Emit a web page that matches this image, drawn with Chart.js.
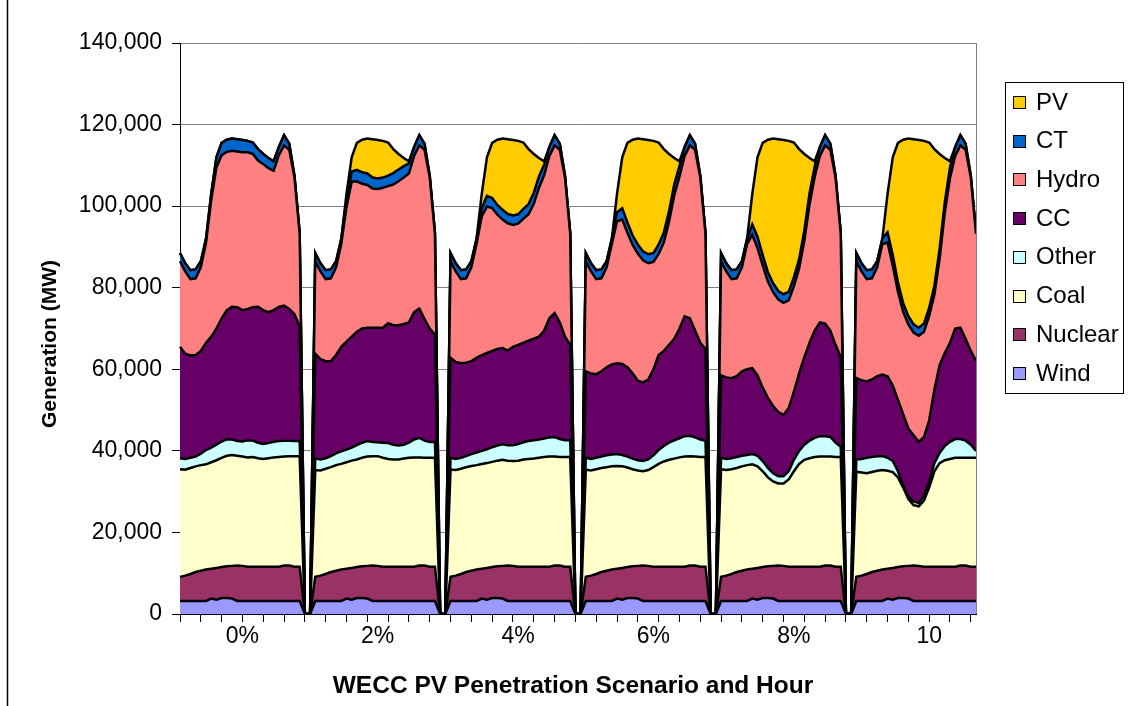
<!DOCTYPE html>
<html>
<head>
<meta charset="utf-8">
<title>WECC PV Penetration</title>
<script src="https://cdn.jsdelivr.net/npm/chart.js@4.4.1/dist/chart.umd.min.js"></script>
<style>
  body { margin: 0; background: #fff; }
  #wrap { width: 1134px; height: 706px; position: relative; }
</style>
</head>
<body>
<div id="wrap"><canvas id="genChart"></canvas></div>
<script>
// scenario names printed under each block (last one is cut off in the original)
const scenarios = ['0%', '2%', '4%', '6%', '8%', '10'];
const hoursPerDay = 24;
const gapPoints = 2; // zero points between two scenario blocks

// MW by hour; wind and nuclear are the same in every scenario
const wind = [3200, 3200, 3200, 3200, 3200, 3200, 3800, 3500, 3900, 3900, 3800, 3200, 3200, 3200, 3200, 3200, 3200, 3200, 3200, 3200, 3200, 3200, 3200, 3200];
const nuclear = [5900, 6200, 6600, 7100, 7400, 7700, 7300, 7800, 7600, 7800, 8000, 8700, 8600, 8400, 8400, 8400, 8400, 8400, 8400, 8400, 8700, 8700, 8400, 8400];

// one row per scenario (0%, 2%, 4%, 6%, 8%, 10%)
const coal = [
  [26400, 26000, 26000, 25900, 25900, 25800, 26100, 26400, 26800, 27100, 27200, 26900, 26800, 26800, 26900, 26600, 26400, 26600, 26800, 26900, 26700, 26800, 27100, 27100],
  [26200, 25800, 25800, 25700, 25900, 25900, 26100, 26300, 26400, 26600, 26800, 26800, 26900, 26700, 26400, 26300, 26300, 26500, 26700, 26800, 26500, 26400, 26700, 26700],
  [26300, 25900, 25800, 25700, 25700, 25600, 25700, 25700, 25800, 25900, 26000, 25700, 25700, 26000, 26300, 26400, 26500, 26700, 26900, 27000, 26700, 26600, 26900, 26900],
  [26300, 25800, 25700, 25500, 25400, 25300, 25200, 24900, 24400, 23800, 23400, 23100, 23500, 24400, 25200, 25800, 26200, 26500, 26800, 27000, 26800, 26700, 26900, 26900],
  [26400, 25900, 25700, 25500, 25600, 25600, 25600, 24900, 23500, 21800, 20700, 20100, 20200, 21400, 23400, 25200, 26200, 26600, 26900, 27000, 26700, 26700, 26900, 26900],
  [25800, 25300, 24700, 24500, 24500, 24400, 24000, 23500, 22000, 19300, 16400, 14800, 14600, 16200, 19400, 23400, 25400, 26100, 26400, 26700, 26400, 26400, 26700, 26700]
];
const other = [
  [2700, 2600, 2500, 2400, 2800, 3500, 3600, 3800, 4000, 4000, 3800, 3600, 3700, 4200, 4000, 3800, 3700, 3700, 3800, 3900, 3900, 3800, 3700, 3700],
  [2900, 2700, 2600, 2700, 2900, 3100, 3100, 3200, 3500, 3700, 3800, 3500, 3400, 3700, 3900, 3600, 3400, 3400, 3700, 4400, 4800, 4200, 3900, 3900],
  [2900, 2700, 2700, 2700, 2900, 3100, 3200, 3400, 3600, 3700, 3800, 3800, 3900, 4100, 4200, 4400, 4500, 4500, 4500, 4700, 4800, 4400, 4100, 4100],
  [2900, 2800, 2800, 2800, 2900, 2900, 2900, 2800, 2700, 2600, 2500, 2500, 2600, 2900, 3400, 3800, 4200, 4500, 4700, 5000, 5000, 4700, 4300, 4000],
  [2800, 2700, 2700, 2700, 2600, 2500, 2500, 2600, 2500, 2300, 2000, 1800, 1800, 2000, 2800, 3200, 3700, 4300, 4700, 5000, 5000, 4800, 3500, 2500],
  [3000, 3300, 3800, 3700, 3600, 3400, 3200, 2700, 1500, 500, 600, 900, 800, 1100, 1500, 2000, 2500, 3500, 4200, 4600, 4600, 4200, 3200, 1700]
];
const cc = [
  [27300, 25800, 25100, 24900, 25200, 26300, 27200, 28500, 30200, 31700, 32500, 32800, 32200, 32200, 32700, 33300, 32800, 32100, 32300, 32900, 33100, 32300, 31100, 28100],
  [25600, 24600, 23800, 23300, 24100, 25600, 26500, 27200, 27800, 28000, 27800, 28000, 28100, 28200, 29400, 29300, 29500, 29600, 29500, 31200, 31700, 29800, 27800, 26300],
  [24500, 23800, 23200, 22900, 22800, 23200, 23500, 23600, 23600, 23700, 23600, 23200, 24100, 24300, 24400, 24600, 24900, 25200, 26500, 29200, 30400, 28600, 25400, 23400],
  [21200, 21000, 20500, 20900, 21600, 22100, 22300, 22300, 21900, 20900, 19500, 19300, 19600, 21100, 23300, 23300, 24000, 24900, 26900, 29400, 28800, 26200, 23700, 22500],
  [20200, 20000, 19600, 19800, 20700, 21000, 21100, 19700, 18000, 17200, 16500, 15700, 15000, 15500, 16700, 19000, 21500, 24000, 26300, 27900, 27600, 26100, 24000, 22000],
  [20000, 19300, 18700, 19000, 19600, 20000, 20000, 18500, 17500, 17500, 16700, 16200, 15000, 14500, 15000, 18000, 21500, 22800, 24300, 27100, 27300, 25000, 23000, 22100]
];
const hydro = [
  [21000, 20200, 18700, 18800, 20500, 24500, 33500, 39500, 40000, 38800, 38300, 38200, 38700, 38400, 37600, 35900, 35800, 35300, 34200, 37200, 39300, 39000, 33500, 22700],
  [22700, 21500, 20100, 20300, 21500, 25300, 32900, 38000, 36900, 35500, 35000, 34100, 34000, 34300, 33600, 34500, 35300, 35900, 36500, 38300, 40000, 41500, 37000, 24700],
  [23700, 22200, 20600, 20700, 23000, 28000, 34000, 35900, 35000, 32900, 31500, 31200, 29900, 29700, 30400, 31000, 33100, 36500, 38100, 39800, 41100, 42300, 39000, 27200],
  [27000, 25000, 23300, 22800, 24500, 29500, 34800, 35400, 33000, 31500, 31200, 29900, 28500, 26300, 24800, 26600, 30200, 35100, 37200, 39300, 42400, 44300, 40500, 28200],
  [28000, 26000, 24300, 24000, 25500, 30700, 32700, 31200, 30000, 28500, 27900, 27600, 27500, 26400, 25900, 25700, 28500, 33900, 37700, 40800, 43700, 44300, 41000, 30200],
  [28600, 26700, 25100, 24800, 26700, 32000, 32800, 29400, 26500, 25100, 25500, 25200, 26000, 25800, 25600, 23300, 26100, 34400, 40400, 42300, 44700, 46300, 42500, 31100]
];
const ct = [
  [2000, 2000, 2200, 2200, 1500, 1000, 1500, 2500, 3000, 3000, 3000, 3000, 3000, 2800, 2800, 2800, 2500, 2500, 2300, 2000, 2500, 1500, 500, 300],
  [2000, 2000, 2200, 2200, 1500, 1200, 1800, 2500, 2800, 2800, 2800, 2700, 2600, 2500, 2600, 2800, 2900, 2800, 2500, 2200, 2500, 1500, 500, 300],
  [2000, 2000, 2200, 2200, 1500, 1200, 2000, 2600, 2500, 2400, 2400, 2300, 2300, 2300, 2400, 2500, 2700, 2800, 2600, 2200, 2500, 1500, 500, 300],
  [2000, 2000, 2200, 2200, 1500, 1300, 2200, 2800, 2500, 2300, 2200, 2200, 2200, 2200, 2300, 2400, 2600, 2700, 2600, 2200, 2500, 1500, 500, 300],
  [2000, 2000, 2200, 2200, 1500, 1300, 2500, 2800, 2500, 2300, 2200, 2100, 2100, 2100, 2200, 2300, 2500, 2700, 2600, 2200, 2500, 1500, 500, 300],
  [2000, 2000, 2200, 2200, 1500, 1300, 2500, 2600, 2300, 2100, 2000, 2000, 2000, 2000, 2000, 2200, 2400, 2600, 2600, 2200, 2500, 1500, 500, 300]
];
const pv = [
  [0, 0, 0, 0, 0, 0, 0, 0, 0, 0, 0, 0, 0, 0, 0, 0, 0, 0, 0, 0, 0, 0, 0, 0],
  [0, 0, 0, 0, 0, 0, 1500, 3500, 6600, 8000, 8600, 9400, 9400, 9000, 8100, 5900, 3800, 2000, 500, 0, 0, 0, 0, 0],
  [0, 0, 0, 0, 0, 0, 3500, 9500, 13500, 16000, 17500, 18300, 18500, 18000, 16300, 13500, 9500, 4500, 800, 0, 0, 0, 0, 0],
  [0, 0, 0, 0, 0, 0, 4500, 12500, 19500, 23500, 26000, 27500, 28000, 27500, 25000, 20500, 14000, 6500, 1200, 0, 0, 0, 0, 0],
  [0, 0, 0, 0, 0, 0, 7500, 19500, 27500, 32500, 35500, 37200, 37800, 37000, 33000, 27000, 18800, 8700, 1200, 0, 0, 0, 0, 0],
  [0, 0, 0, 0, 0, 0, 9400, 24000, 34200, 40100, 43600, 45400, 46000, 44800, 40500, 33500, 23300, 10800, 1500, 0, 0, 0, 0, 0]
];

// where each scenario name sits on the category axis
const scenarioLabelAt = [12, 38, 65, 91, 118, 144];

// chain the scenario days, with zero points between them
function buildSeries(rows) {
  const out = [];
  rows.forEach((row, s) => {
    out.push(...row);
    if (s < rows.length - 1) {
      for (let g = 0; g < gapPoints; g++) out.push(0);
    }
  });
  return out;
}

const labels = [];
scenarios.forEach((name, s) => {
  for (let h = 1; h <= hoursPerDay; h++) labels.push(name + ' h' + h);
  if (s < scenarios.length - 1) {
    for (let g = 0; g < gapPoints; g++) labels.push('');
  }
});

const sameEveryDay = arr => scenarios.map(() => arr);

const series = [
  { label: 'Wind', rows: sameEveryDay(wind), color: '#9999FF' },
  { label: 'Nuclear', rows: sameEveryDay(nuclear), color: '#993366' },
  { label: 'Coal', rows: coal, color: '#FFFFCC' },
  { label: 'Other', rows: other, color: '#CCFFFF' },
  { label: 'CC', rows: cc, color: '#660066' },
  { label: 'Hydro', rows: hydro, color: '#FF8080' },
  { label: 'CT', rows: ct, color: '#0066CC' },
  { label: 'PV', rows: pv, color: '#FFCC00' }
];

const datasets = series.map((s, i) => ({
  label: s.label,
  data: buildSeries(s.rows),
  backgroundColor: s.color,
  borderColor: '#000',
  borderWidth: 2.5,
  fill: i === 0 ? 'origin' : '-1',
  pointRadius: 0,
  tension: 0
}));

const FONT = "'Liberation Sans', Arial, sans-serif";
Chart.defaults.font.family = FONT;
Chart.defaults.color = '#000';

// page edge, plot border, axis titles and the boxed legend
const frame = {
  id: 'frame',
  afterDraw(chart) {
    const { ctx, chartArea: a } = chart;
    ctx.save();

    ctx.strokeStyle = '#000';
    ctx.lineWidth = 1.5;
    ctx.beginPath();
    ctx.moveTo(7.5, 0);
    ctx.lineTo(7.5, 706);
    ctx.stroke();

    ctx.strokeStyle = '#808080';
    ctx.lineWidth = 1;
    ctx.beginPath();
    ctx.moveTo(Math.round(a.right) + 0.5, a.top);
    ctx.lineTo(Math.round(a.right) + 0.5, a.bottom);
    ctx.stroke();

    // axis titles
    ctx.fillStyle = '#000';
    ctx.textAlign = 'center';
    ctx.textBaseline = 'middle';
    ctx.font = 'bold 24.5px ' + FONT;
    ctx.fillText('WECC PV Penetration Scenario and Hour', 573, 686);
    ctx.save();
    ctx.translate(50, 344);
    ctx.rotate(-Math.PI / 2);
    ctx.font = 'bold 21px ' + FONT;
    ctx.fillText('Generation (MW)', 0, 0);
    ctx.restore();

    // legend, top of stack first
    ctx.strokeStyle = '#000';
    ctx.lineWidth = 1;
    ctx.strokeRect(1005.5, 82.5, 118, 311);
    ctx.font = '24px ' + FONT;
    ctx.textAlign = 'left';
    const items = chart.data.datasets.slice().reverse();
    items.forEach((ds, i) => {
      const cy = 102 + i * 38.7;
      ctx.fillStyle = ds.backgroundColor;
      ctx.fillRect(1013.5, Math.round(cy - 6) + 0.5, 12, 12);
      ctx.strokeRect(1013.5, Math.round(cy - 6) + 0.5, 12, 12);
      ctx.fillStyle = '#000';
      ctx.fillText(ds.label, 1036, cy + 1);
    });

    ctx.restore();
  }
};

new Chart(document.getElementById('genChart'), {
  type: 'line',
  data: { labels: labels, datasets: datasets },
  options: {
    responsive: true,
    maintainAspectRatio: false,
    animation: false,
    devicePixelRatio: 1,
    layout: { padding: { top: 43, right: 158, bottom: 0, left: 0 } },
    plugins: {
      legend: { display: false },
      tooltip: { enabled: false }
    },
    scales: {
      x: {
        type: 'category',
        offset: false,
        grid: {
          drawOnChartArea: false,
          tickLength: 8,
          tickColor: '#000',
          tickWidth: ctx => (ctx.index % 4 === 0 ? 1 : 0)
        },
        border: { color: '#000', width: 1 },
        ticks: {
          autoSkip: false,
          maxRotation: 0,
          minRotation: 0,
          padding: 1,
          font: { size: 23 },
          callback: (value, index) => {
            const k = scenarioLabelAt.indexOf(index);
            return k >= 0 ? scenarios[k] : '';
          }
        },
        afterFit: scale => { scale.height = 92; }
      },
      y: {
        stacked: true,
        min: 0,
        max: 140000,
        grid: { color: '#808080', lineWidth: 1, tickLength: 8, tickColor: '#000' },
        border: { color: '#000', width: 1 },
        ticks: {
          stepSize: 20000,
          padding: 10,
          font: { size: 23 },
          callback: v => v.toLocaleString('en-US')
        },
        afterFit: scale => { scale.width = 180; }
      }
    }
  },
  plugins: [frame]
});
</script>
</body>
</html>
